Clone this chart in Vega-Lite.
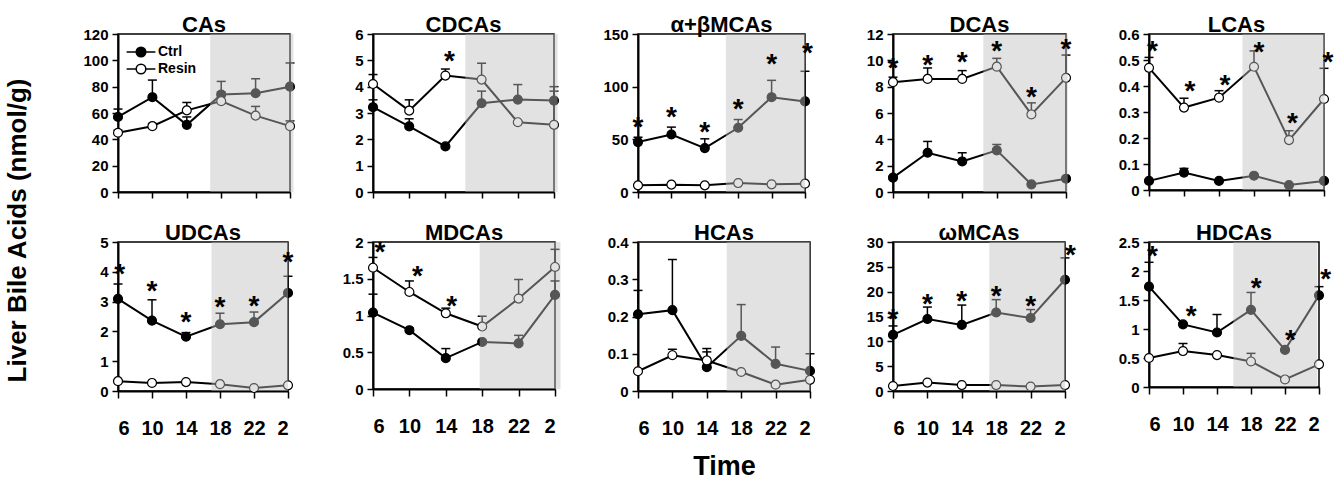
{
"$schema": "https://vega.github.io/schema/vega-lite/v6.json",
"padding": {"left": 5, "top": 13, "right": 0, "bottom": 0},
"title": {"text": "Liver Bile Acids (nmol/g)", "orient": "left", "anchor": "middle", "fontSize": 26, "offset": 25, "frame": "bounds", "baseline": "bottom", "dx": 16},
"config": {
  "font": "Liberation Sans",
  "view": {"stroke": "black", "strokeWidth": 1.5},
  "axis": {"domainColor": "black", "domainWidth": 2, "tickColor": "black", "tickWidth": 1.5, "labelColor": "black", "labelFontWeight": "bold", "grid": false, "titleColor": "black", "titleFontWeight": "bold", "labelFont": "Liberation Sans", "titleFont": "Liberation Sans", "tickCount": 20, "labelOverlap": false},
  "axisX": {"tickSize": 7, "labelFontSize": 20, "labelPadding": 20, "titleFontSize": 27, "titlePadding": 15},
  "axisY": {"tickSize": 6, "labelFontSize": 15, "labelPadding": 4},
  "title": {"fontSize": 22, "fontWeight": "bold", "color": "black", "offset": -10, "font": "Liberation Sans", "frame": "group", "baseline": "alphabetic"}
},
"datasets": {
  "main": [
    {"panel":"CA","series":"Ctrl","t":0,"mean":57,"top":63},{"panel":"CA","series":"Ctrl","t":1,"mean":72,"top":85},{"panel":"CA","series":"Ctrl","t":2,"mean":51,"top":57},{"panel":"CA","series":"Ctrl","t":3,"mean":74,"top":84},{"panel":"CA","series":"Ctrl","t":4,"mean":75,"top":86},{"panel":"CA","series":"Ctrl","t":5,"mean":80,"top":98},
    {"panel":"CA","series":"Resin","t":0,"mean":45,"top":47},{"panel":"CA","series":"Resin","t":1,"mean":50,"top":52},{"panel":"CA","series":"Resin","t":2,"mean":62,"top":68},{"panel":"CA","series":"Resin","t":3,"mean":69,"top":76},{"panel":"CA","series":"Resin","t":4,"mean":58,"top":65},{"panel":"CA","series":"Resin","t":5,"mean":50,"top":54},
    {"panel":"CDCA","series":"Ctrl","t":0,"mean":3.22,"top":3.5},{"panel":"CDCA","series":"Ctrl","t":1,"mean":2.49,"top":2.78},{"panel":"CDCA","series":"Ctrl","t":2,"mean":1.73,"top":1.78},{"panel":"CDCA","series":"Ctrl","t":3,"mean":3.37,"top":3.83},{"panel":"CDCA","series":"Ctrl","t":4,"mean":3.51,"top":4.08},{"panel":"CDCA","series":"Ctrl","t":5,"mean":3.47,"top":4.0},
    {"panel":"CDCA","series":"Resin","t":0,"mean":4.1,"top":4.46},{"panel":"CDCA","series":"Resin","t":1,"mean":3.09,"top":3.5},{"panel":"CDCA","series":"Resin","t":2,"mean":4.42,"top":4.67},{"panel":"CDCA","series":"Resin","t":3,"mean":4.27,"top":4.89},{"panel":"CDCA","series":"Resin","t":4,"mean":2.65,"top":2.7},{"panel":"CDCA","series":"Resin","t":5,"mean":2.55,"top":3.83},
    {"panel":"MCA","series":"Ctrl","t":0,"mean":47.4,"top":52},{"panel":"MCA","series":"Ctrl","t":1,"mean":54.6,"top":61.6},{"panel":"MCA","series":"Ctrl","t":2,"mean":41.7,"top":50.5},{"panel":"MCA","series":"Ctrl","t":3,"mean":61,"top":68.8},{"panel":"MCA","series":"Ctrl","t":4,"mean":90,"top":106},{"panel":"MCA","series":"Ctrl","t":5,"mean":86,"top":114.6},
    {"panel":"MCA","series":"Resin","t":0,"mean":6.3,"top":7},{"panel":"MCA","series":"Resin","t":1,"mean":7,"top":7.5},{"panel":"MCA","series":"Resin","t":2,"mean":6.3,"top":7},{"panel":"MCA","series":"Resin","t":3,"mean":8.5,"top":9.5},{"panel":"MCA","series":"Resin","t":4,"mean":7.3,"top":8},{"panel":"MCA","series":"Resin","t":5,"mean":7.9,"top":8.5},
    {"panel":"DCA","series":"Ctrl","t":0,"mean":1.09,"top":1.2},{"panel":"DCA","series":"Ctrl","t":1,"mean":2.98,"top":3.84},{"panel":"DCA","series":"Ctrl","t":2,"mean":2.32,"top":2.98},{"panel":"DCA","series":"Ctrl","t":3,"mean":3.16,"top":3.61},{"panel":"DCA","series":"Ctrl","t":4,"mean":0.58,"top":0.65},{"panel":"DCA","series":"Ctrl","t":5,"mean":1.01,"top":1.1},
    {"panel":"DCA","series":"Resin","t":0,"mean":8.34,"top":8.72},{"panel":"DCA","series":"Resin","t":1,"mean":8.59,"top":9.42},{"panel":"DCA","series":"Resin","t":2,"mean":8.59,"top":9.22},{"panel":"DCA","series":"Resin","t":3,"mean":9.52,"top":10.15},{"panel":"DCA","series":"Resin","t":4,"mean":5.89,"top":6.77},{"panel":"DCA","series":"Resin","t":5,"mean":8.67,"top":10.4},
    {"panel":"LCA","series":"Ctrl","t":0,"mean":0.035,"top":0.04},{"panel":"LCA","series":"Ctrl","t":1,"mean":0.067,"top":0.083},{"panel":"LCA","series":"Ctrl","t":2,"mean":0.035,"top":0.04},{"panel":"LCA","series":"Ctrl","t":3,"mean":0.055,"top":0.06},{"panel":"LCA","series":"Ctrl","t":4,"mean":0.019,"top":0.022},{"panel":"LCA","series":"Ctrl","t":5,"mean":0.035,"top":0.04},
    {"panel":"LCA","series":"Resin","t":0,"mean":0.47,"top":0.51},{"panel":"LCA","series":"Resin","t":1,"mean":0.317,"top":0.353},{"panel":"LCA","series":"Resin","t":2,"mean":0.355,"top":0.382},{"panel":"LCA","series":"Resin","t":3,"mean":0.474,"top":0.535},{"panel":"LCA","series":"Resin","t":4,"mean":0.192,"top":0.228},{"panel":"LCA","series":"Resin","t":5,"mean":0.35,"top":0.468},
    {"panel":"UDCA","series":"Ctrl","t":0,"mean":3.09,"top":3.59},{"panel":"UDCA","series":"Ctrl","t":1,"mean":2.36,"top":3.06},{"panel":"UDCA","series":"Ctrl","t":2,"mean":1.82,"top":1.96},{"panel":"UDCA","series":"Ctrl","t":3,"mean":2.24,"top":2.61},{"panel":"UDCA","series":"Ctrl","t":4,"mean":2.31,"top":2.65},{"panel":"UDCA","series":"Ctrl","t":5,"mean":3.29,"top":3.85},
    {"panel":"UDCA","series":"Resin","t":0,"mean":0.33,"top":0.36},{"panel":"UDCA","series":"Resin","t":1,"mean":0.27,"top":0.29},{"panel":"UDCA","series":"Resin","t":2,"mean":0.3,"top":0.32},{"panel":"UDCA","series":"Resin","t":3,"mean":0.23,"top":0.25},{"panel":"UDCA","series":"Resin","t":4,"mean":0.1,"top":0.12},{"panel":"UDCA","series":"Resin","t":5,"mean":0.19,"top":0.21},
    {"panel":"MDCA","series":"Ctrl","t":0,"mean":1.04,"top":1.29},{"panel":"MDCA","series":"Ctrl","t":1,"mean":0.8,"top":0.83},{"panel":"MDCA","series":"Ctrl","t":2,"mean":0.42,"top":0.55},{"panel":"MDCA","series":"Ctrl","t":3,"mean":0.64,"top":0.66},{"panel":"MDCA","series":"Ctrl","t":4,"mean":0.62,"top":0.73},{"panel":"MDCA","series":"Ctrl","t":5,"mean":1.28,"top":1.47},
    {"panel":"MDCA","series":"Resin","t":0,"mean":1.65,"top":1.79},{"panel":"MDCA","series":"Resin","t":1,"mean":1.32,"top":1.47},{"panel":"MDCA","series":"Resin","t":2,"mean":1.03,"top":1.1},{"panel":"MDCA","series":"Resin","t":3,"mean":0.85,"top":0.99},{"panel":"MDCA","series":"Resin","t":4,"mean":1.23,"top":1.49},{"panel":"MDCA","series":"Resin","t":5,"mean":1.66,"top":1.9},
    {"panel":"HCA","series":"Ctrl","t":0,"mean":0.206,"top":0.27},{"panel":"HCA","series":"Ctrl","t":1,"mean":0.217,"top":0.353},{"panel":"HCA","series":"Ctrl","t":2,"mean":0.064,"top":0.114},{"panel":"HCA","series":"Ctrl","t":3,"mean":0.148,"top":0.232},{"panel":"HCA","series":"Ctrl","t":4,"mean":0.073,"top":0.118},{"panel":"HCA","series":"Ctrl","t":5,"mean":0.054,"top":0.1},
    {"panel":"HCA","series":"Resin","t":0,"mean":0.053,"top":0.055},{"panel":"HCA","series":"Resin","t":1,"mean":0.096,"top":0.112},{"panel":"HCA","series":"Resin","t":2,"mean":0.082,"top":0.105},{"panel":"HCA","series":"Resin","t":3,"mean":0.051,"top":0.053},{"panel":"HCA","series":"Resin","t":4,"mean":0.017,"top":0.019},{"panel":"HCA","series":"Resin","t":5,"mean":0.03,"top":0.032},
    {"panel":"OMCA","series":"Ctrl","t":0,"mean":11.3,"top":13.1},{"panel":"OMCA","series":"Ctrl","t":1,"mean":14.5,"top":16.9},{"panel":"OMCA","series":"Ctrl","t":2,"mean":13.3,"top":17.3},{"panel":"OMCA","series":"Ctrl","t":3,"mean":15.8,"top":18.4},{"panel":"OMCA","series":"Ctrl","t":4,"mean":14.7,"top":16.4},{"panel":"OMCA","series":"Ctrl","t":5,"mean":22.4,"top":26.8},
    {"panel":"OMCA","series":"Resin","t":0,"mean":1.0,"top":1.1},{"panel":"OMCA","series":"Resin","t":1,"mean":1.7,"top":1.8},{"panel":"OMCA","series":"Resin","t":2,"mean":1.2,"top":1.3},{"panel":"OMCA","series":"Resin","t":3,"mean":1.2,"top":1.3},{"panel":"OMCA","series":"Resin","t":4,"mean":0.9,"top":1.0},{"panel":"OMCA","series":"Resin","t":5,"mean":1.2,"top":1.3},
    {"panel":"HDCA","series":"Ctrl","t":0,"mean":1.73,"top":2.15},{"panel":"HDCA","series":"Ctrl","t":1,"mean":1.08,"top":1.11},{"panel":"HDCA","series":"Ctrl","t":2,"mean":0.94,"top":1.25},{"panel":"HDCA","series":"Ctrl","t":3,"mean":1.33,"top":1.63},{"panel":"HDCA","series":"Ctrl","t":4,"mean":0.64,"top":0.66},{"panel":"HDCA","series":"Ctrl","t":5,"mean":1.58,"top":1.73},
    {"panel":"HDCA","series":"Resin","t":0,"mean":0.5,"top":0.52},{"panel":"HDCA","series":"Resin","t":1,"mean":0.62,"top":0.75},{"panel":"HDCA","series":"Resin","t":2,"mean":0.55,"top":0.57},{"panel":"HDCA","series":"Resin","t":3,"mean":0.44,"top":0.58},{"panel":"HDCA","series":"Resin","t":4,"mean":0.13,"top":0.15},{"panel":"HDCA","series":"Resin","t":5,"mean":0.39,"top":0.41}
  ],
  "stars": [
    {"panel":"CDCA","t":2.11,"y":5.18},
    {"panel":"MCA","t":0,"y":66},{"panel":"MCA","t":1,"y":76},{"panel":"MCA","t":2,"y":62},{"panel":"MCA","t":3,"y":84},{"panel":"MCA","t":4,"y":126},{"panel":"MCA","t":5.07,"y":137},
    {"panel":"DCA","t":0,"y":9.78},{"panel":"DCA","t":1,"y":10.06},{"panel":"DCA","t":2,"y":10.23},{"panel":"DCA","t":3,"y":11.1},{"panel":"DCA","t":4,"y":7.63},{"panel":"DCA","t":5,"y":11.24},
    {"panel":"LCA","t":0.1,"y":0.555},{"panel":"LCA","t":1.17,"y":0.4},{"panel":"LCA","t":2.17,"y":0.423},{"panel":"LCA","t":3.14,"y":0.55},{"panel":"LCA","t":4.1,"y":0.276},{"panel":"LCA","t":5.11,"y":0.513},
    {"panel":"UDCA","t":0.05,"y":4.1},{"panel":"UDCA","t":1,"y":3.54},{"panel":"UDCA","t":2,"y":2.48},{"panel":"UDCA","t":3,"y":3.0},{"panel":"UDCA","t":4,"y":3.03},{"panel":"UDCA","t":5,"y":4.5},
    {"panel":"MDCA","t":0.19,"y":1.93},{"panel":"MDCA","t":1.22,"y":1.61},{"panel":"MDCA","t":2.16,"y":1.2},
    {"panel":"OMCA","t":0,"y":15.5},{"panel":"OMCA","t":1,"y":18.5},{"panel":"OMCA","t":2,"y":19.2},{"panel":"OMCA","t":3,"y":20.2},{"panel":"OMCA","t":4,"y":18.2},{"panel":"OMCA","t":5.16,"y":28.3},
    {"panel":"HDCA","t":0.1,"y":2.34},{"panel":"HDCA","t":1.24,"y":1.31},{"panel":"HDCA","t":3.15,"y":1.8},{"panel":"HDCA","t":4.16,"y":0.9},{"panel":"HDCA","t":5.2,"y":1.95}
  ],
  "shade": [
    {"panel":"CA","start":2.68,"end":5.1},{"panel":"CDCA","start":2.55,"end":5.1},{"panel":"MCA","start":2.63,"end":5},{"panel":"DCA","start":2.61,"end":5.05},{"panel":"LCA","start":2.67,"end":5.02},
    {"panel":"UDCA","start":2.75,"end":5},{"panel":"MDCA","start":2.93,"end":5.15},{"panel":"HCA","start":2.58,"end":5},{"panel":"OMCA","start":2.8,"end":5},{"panel":"HDCA","start":2.48,"end":4.95}
  ]
},
"resolve": {"legend": {"fill": "independent"}},
"columns": 5,
"align": "none",
"bounds": "flush",
"spacing": {"row": 50, "column": 83},
"concat": [
{"title": "CAs", "width": 172, "height": 158,
 "layer": [
  {"data": {"name": "main"}, "transform": [{"filter": "datum.panel==='CA'"}], "mark": {"type": "rule", "color": "black", "strokeWidth": 1.5},
   "encoding": {"x": {"field": "t", "type": "quantitative", "title": null, "scale": {"domain": [0, 5], "nice": false, "zero": false}, "axis": {"values": [0,1,2,3,4,5], "tickCount": 20, "labels": false, "tickSize": 6}},
     "y": {"field": "mean", "type": "quantitative", "title": null, "scale": {"domain": [0, 120], "nice": false}, "axis": {"values": [0,20,40,60,80,100,120], "tickCount": 20, "labelExpr": "'' + datum.value"}},
     "y2": {"field": "top"}}},
  {"data": {"name": "main"}, "transform": [{"filter": "datum.panel==='CA'"}], "mark": {"type": "point", "shape": "stroke", "size": 81, "stroke": "black", "strokeWidth": 1.5, "opacity": 1},
   "encoding": {"x": {"field": "t", "type": "quantitative", "title": null}, "y": {"field": "top", "type": "quantitative", "title": null}}},
  {"data": {"name": "main"}, "transform": [{"filter": "datum.panel==='CA'"}], "mark": {"type": "line", "color": "black", "strokeWidth": 2},
   "encoding": {"x": {"field": "t", "type": "quantitative", "title": null}, "y": {"field": "mean", "type": "quantitative", "title": null}, "detail": {"field": "series"}}},
  {"data": {"name": "main"}, "transform": [{"filter": "datum.panel==='CA'"}], "mark": {"type": "point", "filled": true, "size": 80, "stroke": "black", "strokeWidth": 1.2, "opacity": 1},
   "encoding": {"x": {"field": "t", "type": "quantitative", "title": null}, "y": {"field": "mean", "type": "quantitative", "title": null},
     "fill": {"field": "series", "type": "nominal", "scale": {"domain": ["Ctrl", "Resin"], "range": ["black", "white"]},
       "legend": {"orient": "none", "legendX": 14, "legendY": 9, "title": null, "padding": 0, "rowPadding": 0, "symbolType": "M-1.8,0L-0.6,0M0.6,0L1.8,0M0.6,0A0.6,0.6,0,1,1,-0.6,0A0.6,0.6,0,1,1,0.6,0Z", "symbolSize": 256, "symbolStrokeColor": "black", "symbolStrokeWidth": 1.5, "labelFontSize": 14, "labelFontWeight": "bold", "labelColor": "black", "labelOffset": 8}}}},
  {"data": {"name": "shade"}, "transform": [{"filter": "datum.panel==='CA'"}], "mark": {"type": "rect", "fill": "#bebebe", "opacity": 0.45},
   "encoding": {"x": {"field": "start", "type": "quantitative", "title": null}, "x2": {"field": "end"}}}
 ]},
{"title": "CDCAs", "width": 181, "height": 158,
 "layer": [
  {"data": {"name": "main"}, "transform": [{"filter": "datum.panel==='CDCA'"}], "mark": {"type": "rule", "color": "black", "strokeWidth": 1.5},
   "encoding": {"x": {"field": "t", "type": "quantitative", "title": null, "scale": {"domain": [0, 5], "nice": false, "zero": false}, "axis": {"values": [0,1,2,3,4,5], "tickCount": 20, "labels": false, "tickSize": 6}},
     "y": {"field": "mean", "type": "quantitative", "title": null, "scale": {"domain": [0, 6], "nice": false}, "axis": {"values": [0,1,2,3,4,5,6], "tickCount": 20, "labelExpr": "'' + datum.value"}},
     "y2": {"field": "top"}}},
  {"data": {"name": "main"}, "transform": [{"filter": "datum.panel==='CDCA'"}], "mark": {"type": "point", "shape": "stroke", "size": 81, "stroke": "black", "strokeWidth": 1.5, "opacity": 1},
   "encoding": {"x": {"field": "t", "type": "quantitative", "title": null}, "y": {"field": "top", "type": "quantitative", "title": null}}},
  {"data": {"name": "main"}, "transform": [{"filter": "datum.panel==='CDCA'"}], "mark": {"type": "line", "color": "black", "strokeWidth": 2},
   "encoding": {"x": {"field": "t", "type": "quantitative", "title": null}, "y": {"field": "mean", "type": "quantitative", "title": null}, "detail": {"field": "series"}}},
  {"data": {"name": "main"}, "transform": [{"filter": "datum.panel==='CDCA'"}], "mark": {"type": "point", "filled": true, "size": 80, "stroke": "black", "strokeWidth": 1.2, "opacity": 1},
   "encoding": {"x": {"field": "t", "type": "quantitative", "title": null}, "y": {"field": "mean", "type": "quantitative", "title": null},
     "fill": {"field": "series", "type": "nominal", "scale": {"domain": ["Ctrl", "Resin"], "range": ["black", "white"]}, "legend": null}}},
  {"data": {"name": "shade"}, "transform": [{"filter": "datum.panel==='CDCA'"}], "mark": {"type": "rect", "fill": "#bebebe", "opacity": 0.45},
   "encoding": {"x": {"field": "start", "type": "quantitative", "title": null}, "x2": {"field": "end"}}},
  {"data": {"name": "stars"}, "transform": [{"filter": "datum.panel==='CDCA'"}], "mark": {"type": "text", "text": "*", "fontSize": 28, "fontWeight": "bold", "baseline": "alphabetic", "dy": 14, "color": "black"},
   "encoding": {"x": {"field": "t", "type": "quantitative", "title": null}, "y": {"field": "y", "type": "quantitative", "title": null}}}
 ]},
{"title": "α+βMCAs", "width": 167, "height": 158,
 "layer": [
  {"data": {"name": "main"}, "transform": [{"filter": "datum.panel==='MCA'"}], "mark": {"type": "rule", "color": "black", "strokeWidth": 1.5},
   "encoding": {"x": {"field": "t", "type": "quantitative", "title": null, "scale": {"domain": [0, 5], "nice": false, "zero": false}, "axis": {"values": [0,1,2,3,4,5], "tickCount": 20, "labels": false, "tickSize": 6}},
     "y": {"field": "mean", "type": "quantitative", "title": null, "scale": {"domain": [0, 150], "nice": false}, "axis": {"values": [0,50,100,150], "tickCount": 20, "labelExpr": "'' + datum.value"}},
     "y2": {"field": "top"}}},
  {"data": {"name": "main"}, "transform": [{"filter": "datum.panel==='MCA'"}], "mark": {"type": "point", "shape": "stroke", "size": 81, "stroke": "black", "strokeWidth": 1.5, "opacity": 1},
   "encoding": {"x": {"field": "t", "type": "quantitative", "title": null}, "y": {"field": "top", "type": "quantitative", "title": null}}},
  {"data": {"name": "main"}, "transform": [{"filter": "datum.panel==='MCA'"}], "mark": {"type": "line", "color": "black", "strokeWidth": 2},
   "encoding": {"x": {"field": "t", "type": "quantitative", "title": null}, "y": {"field": "mean", "type": "quantitative", "title": null}, "detail": {"field": "series"}}},
  {"data": {"name": "main"}, "transform": [{"filter": "datum.panel==='MCA'"}], "mark": {"type": "point", "filled": true, "size": 80, "stroke": "black", "strokeWidth": 1.2, "opacity": 1},
   "encoding": {"x": {"field": "t", "type": "quantitative", "title": null}, "y": {"field": "mean", "type": "quantitative", "title": null},
     "fill": {"field": "series", "type": "nominal", "scale": {"domain": ["Ctrl", "Resin"], "range": ["black", "white"]}, "legend": null}}},
  {"data": {"name": "shade"}, "transform": [{"filter": "datum.panel==='MCA'"}], "mark": {"type": "rect", "fill": "#bebebe", "opacity": 0.45},
   "encoding": {"x": {"field": "start", "type": "quantitative", "title": null}, "x2": {"field": "end"}}},
  {"data": {"name": "stars"}, "transform": [{"filter": "datum.panel==='MCA'"}], "mark": {"type": "text", "text": "*", "fontSize": 28, "fontWeight": "bold", "baseline": "alphabetic", "dy": 14, "color": "black"},
   "encoding": {"x": {"field": "t", "type": "quantitative", "title": null}, "y": {"field": "y", "type": "quantitative", "title": null}}}
 ]},
{"title": "DCAs", "width": 173, "height": 158,
 "layer": [
  {"data": {"name": "main"}, "transform": [{"filter": "datum.panel==='DCA'"}], "mark": {"type": "rule", "color": "black", "strokeWidth": 1.5},
   "encoding": {"x": {"field": "t", "type": "quantitative", "title": null, "scale": {"domain": [0, 5], "nice": false, "zero": false}, "axis": {"values": [0,1,2,3,4,5], "tickCount": 20, "labels": false, "tickSize": 6}},
     "y": {"field": "mean", "type": "quantitative", "title": null, "scale": {"domain": [0, 12], "nice": false}, "axis": {"values": [0,2,4,6,8,10,12], "tickCount": 20, "labelExpr": "'' + datum.value"}},
     "y2": {"field": "top"}}},
  {"data": {"name": "main"}, "transform": [{"filter": "datum.panel==='DCA'"}], "mark": {"type": "point", "shape": "stroke", "size": 81, "stroke": "black", "strokeWidth": 1.5, "opacity": 1},
   "encoding": {"x": {"field": "t", "type": "quantitative", "title": null}, "y": {"field": "top", "type": "quantitative", "title": null}}},
  {"data": {"name": "main"}, "transform": [{"filter": "datum.panel==='DCA'"}], "mark": {"type": "line", "color": "black", "strokeWidth": 2},
   "encoding": {"x": {"field": "t", "type": "quantitative", "title": null}, "y": {"field": "mean", "type": "quantitative", "title": null}, "detail": {"field": "series"}}},
  {"data": {"name": "main"}, "transform": [{"filter": "datum.panel==='DCA'"}], "mark": {"type": "point", "filled": true, "size": 80, "stroke": "black", "strokeWidth": 1.2, "opacity": 1},
   "encoding": {"x": {"field": "t", "type": "quantitative", "title": null}, "y": {"field": "mean", "type": "quantitative", "title": null},
     "fill": {"field": "series", "type": "nominal", "scale": {"domain": ["Ctrl", "Resin"], "range": ["black", "white"]}, "legend": null}}},
  {"data": {"name": "shade"}, "transform": [{"filter": "datum.panel==='DCA'"}], "mark": {"type": "rect", "fill": "#bebebe", "opacity": 0.45},
   "encoding": {"x": {"field": "start", "type": "quantitative", "title": null}, "x2": {"field": "end"}}},
  {"data": {"name": "stars"}, "transform": [{"filter": "datum.panel==='DCA'"}], "mark": {"type": "text", "text": "*", "fontSize": 28, "fontWeight": "bold", "baseline": "alphabetic", "dy": 14, "color": "black"},
   "encoding": {"x": {"field": "t", "type": "quantitative", "title": null}, "y": {"field": "y", "type": "quantitative", "title": null}}}
 ]},
{"title": "LCAs", "width": 175, "height": 156,
 "layer": [
  {"data": {"name": "main"}, "transform": [{"filter": "datum.panel==='LCA'"}], "mark": {"type": "rule", "color": "black", "strokeWidth": 1.5},
   "encoding": {"x": {"field": "t", "type": "quantitative", "title": null, "scale": {"domain": [0, 5], "nice": false, "zero": false}, "axis": {"values": [0,1,2,3,4,5], "tickCount": 20, "labels": false, "tickSize": 6}},
     "y": {"field": "mean", "type": "quantitative", "title": null, "scale": {"domain": [0, 0.6], "nice": false}, "axis": {"values": [0,0.1,0.2,0.3,0.4,0.5,0.6], "tickCount": 20, "labelExpr": "'' + datum.value"}},
     "y2": {"field": "top"}}},
  {"data": {"name": "main"}, "transform": [{"filter": "datum.panel==='LCA'"}], "mark": {"type": "point", "shape": "stroke", "size": 81, "stroke": "black", "strokeWidth": 1.5, "opacity": 1},
   "encoding": {"x": {"field": "t", "type": "quantitative", "title": null}, "y": {"field": "top", "type": "quantitative", "title": null}}},
  {"data": {"name": "main"}, "transform": [{"filter": "datum.panel==='LCA'"}], "mark": {"type": "line", "color": "black", "strokeWidth": 2},
   "encoding": {"x": {"field": "t", "type": "quantitative", "title": null}, "y": {"field": "mean", "type": "quantitative", "title": null}, "detail": {"field": "series"}}},
  {"data": {"name": "main"}, "transform": [{"filter": "datum.panel==='LCA'"}], "mark": {"type": "point", "filled": true, "size": 80, "stroke": "black", "strokeWidth": 1.2, "opacity": 1},
   "encoding": {"x": {"field": "t", "type": "quantitative", "title": null}, "y": {"field": "mean", "type": "quantitative", "title": null},
     "fill": {"field": "series", "type": "nominal", "scale": {"domain": ["Ctrl", "Resin"], "range": ["black", "white"]}, "legend": null}}},
  {"data": {"name": "shade"}, "transform": [{"filter": "datum.panel==='LCA'"}], "mark": {"type": "rect", "fill": "#bebebe", "opacity": 0.45},
   "encoding": {"x": {"field": "start", "type": "quantitative", "title": null}, "x2": {"field": "end"}}},
  {"data": {"name": "stars"}, "transform": [{"filter": "datum.panel==='LCA'"}], "mark": {"type": "text", "text": "*", "fontSize": 28, "fontWeight": "bold", "baseline": "alphabetic", "dy": 14, "color": "black"},
   "encoding": {"x": {"field": "t", "type": "quantitative", "title": null}, "y": {"field": "y", "type": "quantitative", "title": null}}}
 ]},
{"title": "UDCAs", "width": 170, "height": 149,
 "layer": [
  {"data": {"name": "main"}, "transform": [{"filter": "datum.panel==='UDCA'"}], "mark": {"type": "rule", "color": "black", "strokeWidth": 1.5},
   "encoding": {"x": {"field": "t", "type": "quantitative", "title": null, "scale": {"domain": [0, 5], "nice": false, "zero": false}, "axis": {"values": [0,1,2,3,4,5], "tickCount": 20, "labelExpr": "['6','10','14','18','22','2'][datum.value]"}},
     "y": {"field": "mean", "type": "quantitative", "title": null, "scale": {"domain": [0, 5], "nice": false}, "axis": {"values": [0,1,2,3,4,5], "tickCount": 20, "labelExpr": "'' + datum.value"}},
     "y2": {"field": "top"}}},
  {"data": {"name": "main"}, "transform": [{"filter": "datum.panel==='UDCA'"}], "mark": {"type": "point", "shape": "stroke", "size": 81, "stroke": "black", "strokeWidth": 1.5, "opacity": 1},
   "encoding": {"x": {"field": "t", "type": "quantitative", "title": null}, "y": {"field": "top", "type": "quantitative", "title": null}}},
  {"data": {"name": "main"}, "transform": [{"filter": "datum.panel==='UDCA'"}], "mark": {"type": "line", "color": "black", "strokeWidth": 2},
   "encoding": {"x": {"field": "t", "type": "quantitative", "title": null}, "y": {"field": "mean", "type": "quantitative", "title": null}, "detail": {"field": "series"}}},
  {"data": {"name": "main"}, "transform": [{"filter": "datum.panel==='UDCA'"}], "mark": {"type": "point", "filled": true, "size": 80, "stroke": "black", "strokeWidth": 1.2, "opacity": 1},
   "encoding": {"x": {"field": "t", "type": "quantitative", "title": null}, "y": {"field": "mean", "type": "quantitative", "title": null},
     "fill": {"field": "series", "type": "nominal", "scale": {"domain": ["Ctrl", "Resin"], "range": ["black", "white"]}, "legend": null}}},
  {"data": {"name": "shade"}, "transform": [{"filter": "datum.panel==='UDCA'"}], "mark": {"type": "rect", "fill": "#bebebe", "opacity": 0.45},
   "encoding": {"x": {"field": "start", "type": "quantitative", "title": null}, "x2": {"field": "end"}}},
  {"data": {"name": "stars"}, "transform": [{"filter": "datum.panel==='UDCA'"}], "mark": {"type": "text", "text": "*", "fontSize": 28, "fontWeight": "bold", "baseline": "alphabetic", "dy": 14, "color": "black"},
   "encoding": {"x": {"field": "t", "type": "quantitative", "title": null}, "y": {"field": "y", "type": "quantitative", "title": null}}}
 ]},
{"title": "MDCAs", "width": 182, "height": 147,
 "layer": [
  {"data": {"name": "main"}, "transform": [{"filter": "datum.panel==='MDCA'"}], "mark": {"type": "rule", "color": "black", "strokeWidth": 1.5},
   "encoding": {"x": {"field": "t", "type": "quantitative", "title": null, "scale": {"domain": [0, 5], "nice": false, "zero": false}, "axis": {"values": [0,1,2,3,4,5], "tickCount": 20, "labelExpr": "['6','10','14','18','22','2'][datum.value]"}},
     "y": {"field": "mean", "type": "quantitative", "title": null, "scale": {"domain": [0, 2], "nice": false}, "axis": {"values": [0,0.5,1,1.5,2], "tickCount": 20, "labelExpr": "'' + datum.value"}},
     "y2": {"field": "top"}}},
  {"data": {"name": "main"}, "transform": [{"filter": "datum.panel==='MDCA'"}], "mark": {"type": "point", "shape": "stroke", "size": 81, "stroke": "black", "strokeWidth": 1.5, "opacity": 1},
   "encoding": {"x": {"field": "t", "type": "quantitative", "title": null}, "y": {"field": "top", "type": "quantitative", "title": null}}},
  {"data": {"name": "main"}, "transform": [{"filter": "datum.panel==='MDCA'"}], "mark": {"type": "line", "color": "black", "strokeWidth": 2},
   "encoding": {"x": {"field": "t", "type": "quantitative", "title": null}, "y": {"field": "mean", "type": "quantitative", "title": null}, "detail": {"field": "series"}}},
  {"data": {"name": "main"}, "transform": [{"filter": "datum.panel==='MDCA'"}], "mark": {"type": "point", "filled": true, "size": 80, "stroke": "black", "strokeWidth": 1.2, "opacity": 1},
   "encoding": {"x": {"field": "t", "type": "quantitative", "title": null}, "y": {"field": "mean", "type": "quantitative", "title": null},
     "fill": {"field": "series", "type": "nominal", "scale": {"domain": ["Ctrl", "Resin"], "range": ["black", "white"]}, "legend": null}}},
  {"data": {"name": "shade"}, "transform": [{"filter": "datum.panel==='MDCA'"}], "mark": {"type": "rect", "fill": "#bebebe", "opacity": 0.45},
   "encoding": {"x": {"field": "start", "type": "quantitative", "title": null}, "x2": {"field": "end"}}},
  {"data": {"name": "stars"}, "transform": [{"filter": "datum.panel==='MDCA'"}], "mark": {"type": "text", "text": "*", "fontSize": 28, "fontWeight": "bold", "baseline": "alphabetic", "dy": 14, "color": "black"},
   "encoding": {"x": {"field": "t", "type": "quantitative", "title": null}, "y": {"field": "y", "type": "quantitative", "title": null}}}
 ]},
{"title": "HCAs", "width": 172, "height": 149,
 "layer": [
  {"data": {"name": "main"}, "transform": [{"filter": "datum.panel==='HCA'"}], "mark": {"type": "rule", "color": "black", "strokeWidth": 1.5},
   "encoding": {"x": {"field": "t", "type": "quantitative", "title": "Time", "scale": {"domain": [0, 5], "nice": false, "zero": false}, "axis": {"values": [0,1,2,3,4,5], "tickCount": 20, "labelExpr": "['6','10','14','18','22','2'][datum.value]"}},
     "y": {"field": "mean", "type": "quantitative", "title": null, "scale": {"domain": [0, 0.4], "nice": false}, "axis": {"values": [0,0.1,0.2,0.3,0.4], "tickCount": 20, "labelExpr": "'' + datum.value"}},
     "y2": {"field": "top"}}},
  {"data": {"name": "main"}, "transform": [{"filter": "datum.panel==='HCA'"}], "mark": {"type": "point", "shape": "stroke", "size": 81, "stroke": "black", "strokeWidth": 1.5, "opacity": 1},
   "encoding": {"x": {"field": "t", "type": "quantitative", "title": "Time"}, "y": {"field": "top", "type": "quantitative", "title": null}}},
  {"data": {"name": "main"}, "transform": [{"filter": "datum.panel==='HCA'"}], "mark": {"type": "line", "color": "black", "strokeWidth": 2},
   "encoding": {"x": {"field": "t", "type": "quantitative", "title": "Time"}, "y": {"field": "mean", "type": "quantitative", "title": null}, "detail": {"field": "series"}}},
  {"data": {"name": "main"}, "transform": [{"filter": "datum.panel==='HCA'"}], "mark": {"type": "point", "filled": true, "size": 80, "stroke": "black", "strokeWidth": 1.2, "opacity": 1},
   "encoding": {"x": {"field": "t", "type": "quantitative", "title": "Time"}, "y": {"field": "mean", "type": "quantitative", "title": null},
     "fill": {"field": "series", "type": "nominal", "scale": {"domain": ["Ctrl", "Resin"], "range": ["black", "white"]}, "legend": null}}},
  {"data": {"name": "shade"}, "transform": [{"filter": "datum.panel==='HCA'"}], "mark": {"type": "rect", "fill": "#bebebe", "opacity": 0.45},
   "encoding": {"x": {"field": "start", "type": "quantitative", "title": "Time"}, "x2": {"field": "end"}}}
 ]},
{"title": "ωMCAs", "width": 172, "height": 149,
 "layer": [
  {"data": {"name": "main"}, "transform": [{"filter": "datum.panel==='OMCA'"}], "mark": {"type": "rule", "color": "black", "strokeWidth": 1.5},
   "encoding": {"x": {"field": "t", "type": "quantitative", "title": null, "scale": {"domain": [0, 5], "nice": false, "zero": false}, "axis": {"values": [0,1,2,3,4,5], "tickCount": 20, "labelExpr": "['6','10','14','18','22','2'][datum.value]"}},
     "y": {"field": "mean", "type": "quantitative", "title": null, "scale": {"domain": [0, 30], "nice": false}, "axis": {"values": [0,5,10,15,20,25,30], "tickCount": 20, "labelExpr": "'' + datum.value"}},
     "y2": {"field": "top"}}},
  {"data": {"name": "main"}, "transform": [{"filter": "datum.panel==='OMCA'"}], "mark": {"type": "point", "shape": "stroke", "size": 81, "stroke": "black", "strokeWidth": 1.5, "opacity": 1},
   "encoding": {"x": {"field": "t", "type": "quantitative", "title": null}, "y": {"field": "top", "type": "quantitative", "title": null}}},
  {"data": {"name": "main"}, "transform": [{"filter": "datum.panel==='OMCA'"}], "mark": {"type": "line", "color": "black", "strokeWidth": 2},
   "encoding": {"x": {"field": "t", "type": "quantitative", "title": null}, "y": {"field": "mean", "type": "quantitative", "title": null}, "detail": {"field": "series"}}},
  {"data": {"name": "main"}, "transform": [{"filter": "datum.panel==='OMCA'"}], "mark": {"type": "point", "filled": true, "size": 80, "stroke": "black", "strokeWidth": 1.2, "opacity": 1},
   "encoding": {"x": {"field": "t", "type": "quantitative", "title": null}, "y": {"field": "mean", "type": "quantitative", "title": null},
     "fill": {"field": "series", "type": "nominal", "scale": {"domain": ["Ctrl", "Resin"], "range": ["black", "white"]}, "legend": null}}},
  {"data": {"name": "shade"}, "transform": [{"filter": "datum.panel==='OMCA'"}], "mark": {"type": "rect", "fill": "#bebebe", "opacity": 0.45},
   "encoding": {"x": {"field": "start", "type": "quantitative", "title": null}, "x2": {"field": "end"}}},
  {"data": {"name": "stars"}, "transform": [{"filter": "datum.panel==='OMCA'"}], "mark": {"type": "text", "text": "*", "fontSize": 28, "fontWeight": "bold", "baseline": "alphabetic", "dy": 14, "color": "black"},
   "encoding": {"x": {"field": "t", "type": "quantitative", "title": null}, "y": {"field": "y", "type": "quantitative", "title": null}}}
 ]},
{"title": "HDCAs", "width": 170, "height": 145,
 "layer": [
  {"data": {"name": "main"}, "transform": [{"filter": "datum.panel==='HDCA'"}], "mark": {"type": "rule", "color": "black", "strokeWidth": 1.5},
   "encoding": {"x": {"field": "t", "type": "quantitative", "title": null, "scale": {"domain": [0, 5], "nice": false, "zero": false}, "axis": {"values": [0,1,2,3,4,5], "tickCount": 20, "labelExpr": "['6','10','14','18','22','2'][datum.value]"}},
     "y": {"field": "mean", "type": "quantitative", "title": null, "scale": {"domain": [0, 2.5], "nice": false}, "axis": {"values": [0,0.5,1,1.5,2,2.5], "tickCount": 20, "labelExpr": "'' + datum.value"}},
     "y2": {"field": "top"}}},
  {"data": {"name": "main"}, "transform": [{"filter": "datum.panel==='HDCA'"}], "mark": {"type": "point", "shape": "stroke", "size": 81, "stroke": "black", "strokeWidth": 1.5, "opacity": 1},
   "encoding": {"x": {"field": "t", "type": "quantitative", "title": null}, "y": {"field": "top", "type": "quantitative", "title": null}}},
  {"data": {"name": "main"}, "transform": [{"filter": "datum.panel==='HDCA'"}], "mark": {"type": "line", "color": "black", "strokeWidth": 2},
   "encoding": {"x": {"field": "t", "type": "quantitative", "title": null}, "y": {"field": "mean", "type": "quantitative", "title": null}, "detail": {"field": "series"}}},
  {"data": {"name": "main"}, "transform": [{"filter": "datum.panel==='HDCA'"}], "mark": {"type": "point", "filled": true, "size": 80, "stroke": "black", "strokeWidth": 1.2, "opacity": 1},
   "encoding": {"x": {"field": "t", "type": "quantitative", "title": null}, "y": {"field": "mean", "type": "quantitative", "title": null},
     "fill": {"field": "series", "type": "nominal", "scale": {"domain": ["Ctrl", "Resin"], "range": ["black", "white"]}, "legend": null}}},
  {"data": {"name": "shade"}, "transform": [{"filter": "datum.panel==='HDCA'"}], "mark": {"type": "rect", "fill": "#bebebe", "opacity": 0.45},
   "encoding": {"x": {"field": "start", "type": "quantitative", "title": null}, "x2": {"field": "end"}}},
  {"data": {"name": "stars"}, "transform": [{"filter": "datum.panel==='HDCA'"}], "mark": {"type": "text", "text": "*", "fontSize": 28, "fontWeight": "bold", "baseline": "alphabetic", "dy": 14, "color": "black"},
   "encoding": {"x": {"field": "t", "type": "quantitative", "title": null}, "y": {"field": "y", "type": "quantitative", "title": null}}}
 ]}
]
}
